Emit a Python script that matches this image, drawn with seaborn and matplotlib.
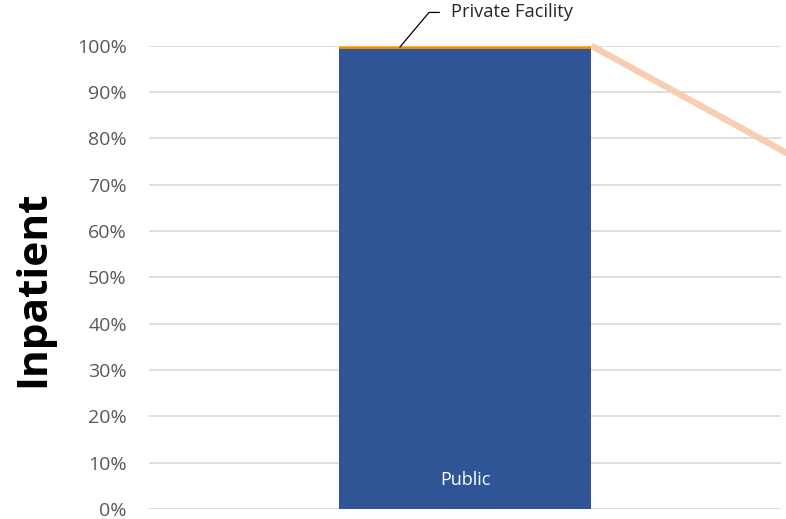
import matplotlib
matplotlib.use("Agg")
import matplotlib.pyplot as plt
import seaborn as sns
import pandas as pd

# data (share of inpatient visits)
category = ["Inpatient"]
public = [0.9935]
private_facility = [0.0045]
other = [0.0020]
# series line runs toward the next (off-chart) bar
series_line_x = [0.2, 0.56]
series_line_y = [1.0, 0.73]
yticks = [0, 0.1, 0.2, 0.3, 0.4, 0.5, 0.6, 0.7, 0.8, 0.9, 1.0]
ytick_labels = ["0%", "10%", "20%", "30%", "40%", "50%", "60%", "70%", "80%", "90%", "100%"]

sns.set_theme(style="white")
plt.rcParams['font.family'] = ['Open Sans', 'DejaVu Sans']

df = pd.DataFrame({"cat": category, "public": public,
                   "private": private_facility, "other": other})

fig = plt.figure(figsize=(7.86, 5.19), dpi=100)
ax = fig.add_axes([149/786, 10/519, 632/786, 463.3/519])

sns.barplot(data=df, x="cat", y="public", color="#2F5597", width=0.4,
            saturation=1, ax=ax, linewidth=0, zorder=3)
sns.barplot(data=df, x="cat", y="private", bottom=df["public"], color="#ED8A1F",
            width=0.4, saturation=1, ax=ax, linewidth=0, zorder=3)
sns.barplot(data=df, x="cat", y="other", bottom=df["public"] + df["private"],
            color="#FFC000", width=0.4, saturation=1, ax=ax, linewidth=0, zorder=3)

ax.plot(series_line_x, series_line_y, color="#F8CBAD", lw=4.6, alpha=0.95,
        solid_capstyle="butt", clip_on=False, zorder=2)

ax.set_xlim(-0.5, 0.5)
ax.set_ylim(0, 1.0)
ax.set_yticks(yticks)
ax.set_yticklabels(ytick_labels, fontsize=14, color="#595959")
ax.tick_params(axis="y", length=0, pad=16)
ax.set_xticks([])
ax.set_xlabel("")
ax.set_ylabel("")
ax.yaxis.grid(True, color="#D9D9D9", lw=1.2)
ax.set_axisbelow(True)
for s in ax.spines.values():
    s.set_visible(False)

ax.text(0, 0.063, "Public", color="white", ha="center",
        va="center", fontsize=13)

ax.annotate("Private Facility", xy=(-0.103, 0.997), xytext=(-0.022, 1.061),
            textcoords="data", fontsize=13.2, color="#262626", va="baseline", ha="left",
            annotation_clip=False,
            arrowprops=dict(arrowstyle="-", color="black", lw=0.9,
                            connectionstyle="angle,angleA=0,angleB=50,rad=0",
                            shrinkA=6, shrinkB=0))

fig.text(34/786, 1 - 289/519, "Inpatient", rotation=90, ha="center", va="center",
         fontsize=30.5, fontweight="bold", color="black")

fig.savefig("out.png", dpi=100)
